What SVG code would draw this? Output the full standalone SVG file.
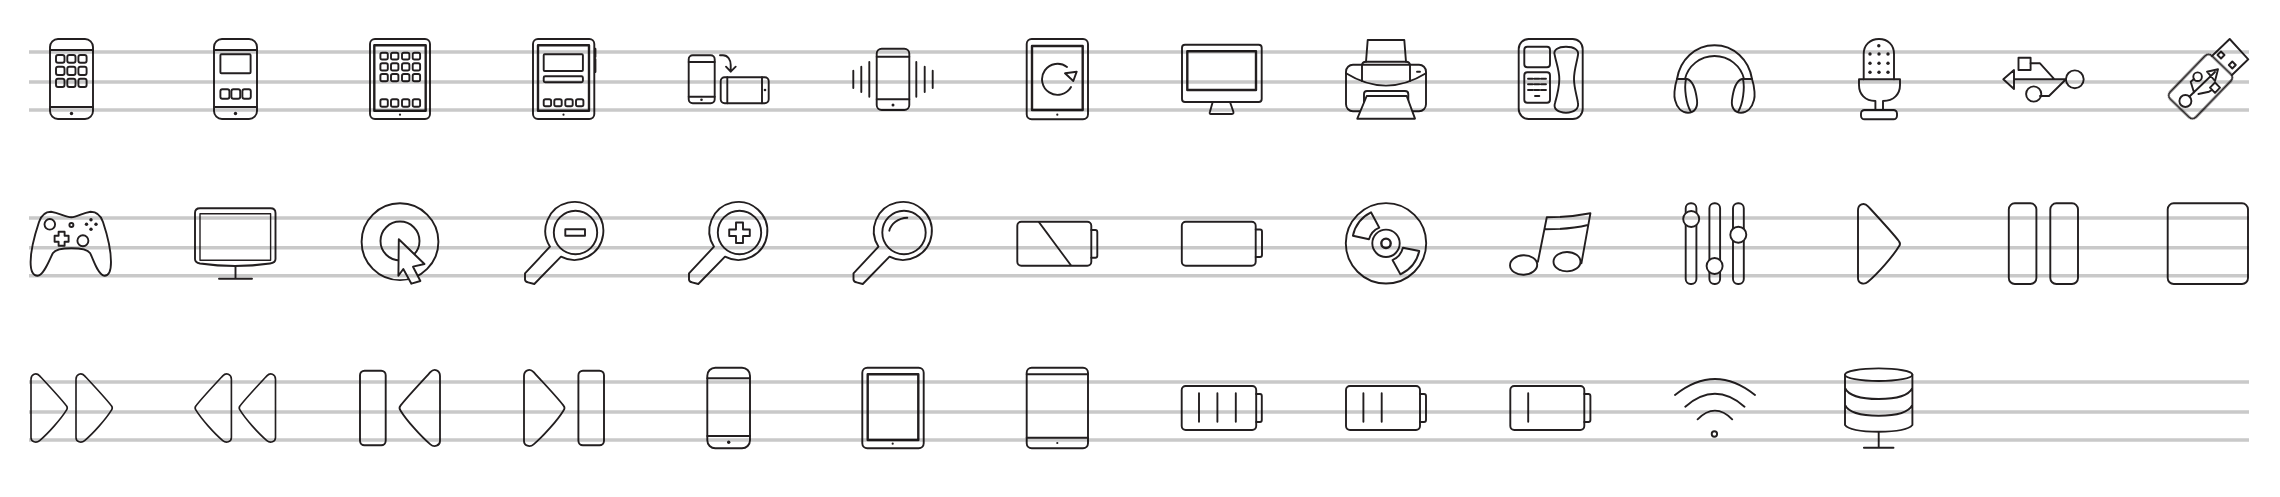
<svg xmlns="http://www.w3.org/2000/svg" xmlns:xlink="http://www.w3.org/1999/xlink" width="2280" height="497" viewBox="0 0 2280 497">
<style>
.i{mix-blend-mode:multiply}
.i *{fill:none;stroke:#231f20;stroke-width:1.9;stroke-linejoin:round;stroke-linecap:round;vector-effect:non-scaling-stroke}
.i .w{fill:#fff}
.i .d{fill:#231f20;stroke:none}
.i .t{stroke-width:2.4}
.i .n{stroke-width:1.4}
.g line{stroke:#c9c9c9;stroke-width:3.6}
</style>
<defs>
<path id="tri" d="M0,7C0,1 6,-1.5 10,3C22,16 35,30 41,38Q43,40.5 41,43C35,53 20,70 10,78.5C6,82 0,80 0,75Z"/>
</defs>
<rect width="2280" height="497" fill="#fff"/>
<g class="g">
<line x1="29" y1="52" x2="2249" y2="52"/><line x1="29" y1="82" x2="2249" y2="82"/><line x1="29" y1="110" x2="2249" y2="110"/>
<line x1="29" y1="218" x2="2249" y2="218"/><line x1="29" y1="247.7" x2="2249" y2="247.7"/><line x1="29" y1="275.7" x2="2249" y2="275.7"/>
<line x1="29" y1="382" x2="2249" y2="382"/><line x1="29" y1="412" x2="2249" y2="412"/><line x1="29" y1="440" x2="2249" y2="440"/>
</g>
<g class="i">
<g id="phone-apps">
<rect x="50" y="39" width="43" height="80" rx="8"/><path d="M50,50H93M50,107H93"/><circle class="d" cx="71.500" cy="113.500" r="1.700"/>
<rect x="56" y="55" width="8.500" height="7.700" rx="2"/><rect x="67.300" y="55" width="8.200" height="7.700" rx="2"/><rect x="78.400" y="55" width="8.200" height="7.700" rx="2"/>
<rect x="56" y="66.700" width="8.500" height="8.300" rx="2"/><rect x="67.300" y="66.700" width="8.200" height="8.300" rx="2"/><rect x="78.400" y="66.700" width="8.200" height="8.300" rx="2"/>
<rect x="56" y="78.700" width="8.500" height="8.300" rx="2"/><rect x="67.300" y="78.700" width="8.200" height="8.300" rx="2"/><rect x="78.400" y="78.700" width="8.200" height="8.300" rx="2"/>
</g>
<g id="phone-widget">
<rect x="214" y="39" width="43" height="80" rx="8"/><path d="M214,50H257M214,107H257"/><circle class="d" cx="235.500" cy="113.500" r="1.700"/>
<rect x="220.400" y="54.300" width="30.200" height="19" rx="1"/>
<rect x="220.400" y="89.300" width="9" height="9.400" rx="2"/><rect x="231.400" y="89.300" width="8.800" height="9.400" rx="2"/><rect x="242.400" y="89.300" width="8.400" height="9.400" rx="2"/>
</g>
<g id="tablet-apps">
<rect x="370" y="39" width="60" height="80" rx="5"/><rect class="t" x="374.300" y="45.300" width="51.400" height="65.400"/><circle class="d" cx="400" cy="114.700" r="1.100"/>
<rect x="380.400" y="52.700" width="7.400" height="6.800" rx="1.800"/><rect x="391" y="52.700" width="7.400" height="6.800" rx="1.800"/><rect x="402" y="52.700" width="7.400" height="6.800" rx="1.800"/><rect x="412.700" y="52.700" width="7.400" height="6.800" rx="1.800"/>
<rect x="380.400" y="63.300" width="7.400" height="7.200" rx="1.800"/><rect x="391" y="63.300" width="7.400" height="7.200" rx="1.800"/><rect x="402" y="63.300" width="7.400" height="7.200" rx="1.800"/><rect x="412.700" y="63.300" width="7.400" height="7.200" rx="1.800"/>
<rect x="380.400" y="74" width="7.400" height="7.200" rx="1.800"/><rect x="391" y="74" width="7.400" height="7.200" rx="1.800"/><rect x="402" y="74" width="7.400" height="7.200" rx="1.800"/><rect x="412.700" y="74" width="7.400" height="7.200" rx="1.800"/>
<rect x="380.400" y="99.300" width="7.400" height="7.400" rx="1.800"/><rect x="391" y="99.300" width="7.400" height="7.400" rx="1.800"/><rect x="402" y="99.300" width="7.400" height="7.400" rx="1.800"/><rect x="412.700" y="99.300" width="7.400" height="7.400" rx="1.800"/>
</g>
<g id="tablet-widget">
<rect x="533" y="39" width="61.300" height="80" rx="5"/><rect class="t" x="538" y="45.300" width="51" height="65.400"/><circle class="d" cx="563.500" cy="114.700" r="1.100"/>
<rect x="543.700" y="54.300" width="39.200" height="16.700" rx="1"/><rect x="543.700" y="76.300" width="39.200" height="6" rx="1.500"/>
<rect x="543.700" y="99.300" width="7.400" height="7" rx="1.800"/><rect x="554.300" y="99.300" width="7.400" height="7" rx="1.800"/><rect x="565.300" y="99.300" width="7.400" height="7" rx="1.800"/><rect x="576" y="99.300" width="7.400" height="7" rx="1.800"/>
<path class="t" d="M595.200,49V56.700M595.200,59.300V71.700"/>
</g>
<g id="phone-rotate">
<rect x="688.700" y="55.300" width="26" height="48" rx="4"/><path d="M688.700,62H714.700M688.700,96.700H714.700"/><circle class="d" cx="701.500" cy="99.700" r="1.300"/>
<rect x="720.700" y="77.300" width="48" height="26" rx="4"/><path d="M727.300,77.300V103.300M762,77.300V103.300"/><circle class="d" cx="765" cy="90" r="1.300"/>
<path d="M720,55.300H723C728,55.300 730.700,60 730.700,65V71M726,66.700L730.700,71.700L735.700,66.700"/>
</g>
<g id="phone-vibrate">
<rect x="876.700" y="48.700" width="32.600" height="61.300" rx="5"/><path d="M876.700,56.700H909.300M876.700,99.300H909.300"/><circle class="d" cx="893" cy="105" r="1.500"/>
<path d="M853.300,70.700V88M861.300,66.700V92M869.300,62V96.700M916.300,62V96.700M924.700,66.700V92M932.700,70.700V88"/>
</g>
<g id="tablet-rotate">
<rect x="1026.700" y="39" width="61.300" height="80.300" rx="5"/><rect class="t" x="1032" y="46" width="50.700" height="64"/><circle class="d" cx="1057.300" cy="114.700" r="1.100"/>
<path d="M1071,87A15.500,15.500 0 1 1 1067,67M1065,73.300L1076.700,71.700L1073.300,81Z"/>
</g>
<g id="monitor">
<rect x="1182" y="44.700" width="79.700" height="57.300" rx="3"/><rect class="t" x="1187.300" y="51.300" width="68.700" height="38.700"/>
<path d="M1212.700,102L1210,111.500Q1209,114 1211,114H1232Q1234,114 1233.300,111.500L1230,102"/>
</g>
<g id="printer">
<path d="M1366,61.700L1367.700,40H1404.300L1406,61.700"/>
<rect x="1346" y="64.700" width="80" height="46.600" rx="7"/>
<path d="M1346,73.300Q1386,98 1426,73.300"/>
<path d="M1362,81V65.700Q1362,61.700 1366,61.700H1406Q1410,61.700 1410,65.700V81"/>
<path d="M1364,104V94Q1364,91 1367,91H1405Q1408.300,91 1408.300,94V104"/>
<path class="w" d="M1366.700,96H1406.700L1415,118.700H1357.300Z"/>
<path d="M1417,71.700H1420"/>
</g>
<g id="deskphone">
<rect x="1518.700" y="39" width="64" height="80" rx="10"/>
<rect x="1524.300" y="46.700" width="25.700" height="20.600" rx="3"/><rect x="1524.300" y="72.300" width="25.700" height="30.400" rx="3"/>
<path d="M1528,78.700H1532.700M1534.300,78.700H1539.300M1541,78.700H1546M1528,84.300H1532.700M1534.300,84.300H1539.300M1541,84.300H1546M1528,90H1532.700M1534.300,90H1539.300M1541,90H1546M1535,96H1539.300"/>
<path d="M1566,46.700C1574,46.700 1579,50 1578,55C1577,62 1574,70 1574,79C1574,88 1577,96 1578,103C1579,109 1574,112.700 1566,112.700C1558,112.700 1553,109 1555,103C1557,96 1559.300,88 1559.300,79C1559.300,70 1556,62 1554.700,55C1553,50 1558,46.700 1566,46.700Z"/>
</g>
<g id="headphones">
<path d="M1677,79C1680,60 1695,45.300 1714.500,45.300C1734,45.300 1749,60 1752,79M1685,79C1688,66 1700,56 1714.500,56C1729,56 1741,66 1744,79"/>
<path id="cup" d="M1677,79C1674,88 1674,97 1675,100C1677,108 1682,112.700 1688,112.700C1694,112.700 1698,108 1697,100C1696,92 1694,81 1687,79ZM1686,79C1684,88 1686,104 1691,112"/>
<use xlink:href="#cup" href="#cup" transform="translate(3429,0) scale(-1,1)"/>
</g>
<g id="microphone">
<path d="M1863.700,79.300V54C1863.700,45 1870,39 1879,39C1888,39 1894,45 1894,54V79.300"/>
<path d="M1859,79.300H1900V85C1900,94 1894,101 1883,101V110M1859,79.300V85C1859,94 1865,101 1875.400,101V110"/>
<rect x="1861" y="110" width="36" height="9.300" rx="3.500"/>
<g class="dots"><circle class="d" cx="1878.800" cy="45.700" r="1.700"/><circle class="d" cx="1870" cy="54" r="1.700"/><circle class="d" cx="1879" cy="54" r="1.700"/><circle class="d" cx="1888" cy="54" r="1.700"/><circle class="d" cx="1870" cy="63.300" r="1.700"/><circle class="d" cx="1879" cy="63.300" r="1.700"/><circle class="d" cx="1888" cy="63.300" r="1.700"/><circle class="d" cx="1870" cy="72.300" r="1.700"/><circle class="d" cx="1879" cy="72.300" r="1.700"/><circle class="d" cx="1888" cy="72.300" r="1.700"/></g>
</g>
<g id="usb-symbol">
<path d="M2003.300,79.300L2014,70V89ZM2014,79.300H2066M2030.600,63.300H2040L2054.500,79.300M2066,79.300L2049,96H2040"/>
<rect x="2018.500" y="57.700" width="12.100" height="12.300"/>
<circle cx="2074.800" cy="79.300" r="8.900"/><circle cx="2033.700" cy="94" r="7.600"/>
</g>
<g id="usb-stick">
<rect x="2170.500" y="68.500" width="60" height="36" rx="5" transform="rotate(-46 2200.500 86.500)"/>
<path d="M2212,56L2229.700,39L2248.300,59.300L2232,75"/>
<path d="M2221,51.500L2224.500,55L2221,58.500L2217.500,55ZM2232.300,61.500L2235.800,65L2232.300,68.500L2228.800,65Z"/>
<circle cx="2185.400" cy="101" r="6"/><path d="M2189.500,96.500L2215,72M2207,71.700L2218,69.300L2215,81ZM2194,92.500L2190.700,81.700L2194,79M2198.400,94L2209,91.700L2212,90"/>
<circle cx="2197.600" cy="76.700" r="4.300"/><path d="M2215,82.500L2220,87.700L2215,92.900L2210,87.700Z"/>
</g>
<g id="gamepad">
<path d="M71.400,217.300C65,217.300 60,213 51,211.700C44,211.700 41,216 39,222C35,234 30.600,248 30.600,262C30.600,270 33,275.700 37.600,275.700C44,275.700 50,258 53,253C55,250 60,248.300 71.400,248.300C83,248.300 88,250 90,253C93,258 98,275.700 104.500,275.700C109,275.700 111,270 111,262C111,248 107,234 103,222C101,216 97,211.700 90.600,211.700C82,213 77,217.300 71.400,217.300Z"/>
<circle cx="49.800" cy="224.300" r="5.300"/><circle cx="71.400" cy="225" r="2"/><circle cx="82.900" cy="240.700" r="5.500"/>
<circle class="d" cx="91" cy="219.700" r="1.700"/><circle class="d" cx="86.500" cy="224.300" r="1.700"/><circle class="d" cx="96" cy="224.300" r="1.700"/><circle class="d" cx="91" cy="229.300" r="1.700"/>
<path d="M58.600,231.700H64.600V235.700H68.600V241.700H64.600V245.700H58.600V241.700H54.600V235.700H58.600Z"/>
</g>
<g id="tv">
<path d="M195,213C195,210 197,208.300 200,208.300H270.500C273.500,208.300 275.500,210 275.500,213V259C275.500,262 273.500,263 270,263.500Q235,268.500 200,263.500C197,263 195,262 195,259Z"/>
<rect class="n" x="200" y="213.700" width="70.600" height="46.600"/>
<path d="M235.500,266.500V278.500M219,278.700H252"/>
</g>
<g id="click-target">
<circle cx="400" cy="241.700" r="38.400"/><circle cx="400" cy="241" r="19.500"/>
<path class="w" d="M398.800,239.300L424.500,264L413,266.700L420.400,281L411.400,283.700L403.300,269L398.400,275.700Z"/>
</g>
<g id="zoom-out">
<circle cx="575.500" cy="232.500" r="21.700"/>
<path d="M550,246.700L525,273.300V279.700Q525.500,282 528,282.300L534.300,284L561,256.700A29,29 0 1 0 550,246.700Z"/>
<rect x="565.300" y="229.300" width="19.700" height="6.400"/>
</g>
<g id="zoom-in">
<circle cx="739.500" cy="232.500" r="21.700"/>
<path d="M714,246.700L689,273.300V279.700Q689.500,282 692,282.300L698.300,284L725,256.700A29,29 0 1 0 714,246.700Z"/>
<path d="M736,222.500H743V229.500H749.800V236H743V243H736V236H729.200V229.500H736Z"/>
</g>
<g id="magnifier">
<circle cx="904" cy="232.500" r="21.700"/>
<path d="M878.500,246.700L853.500,273.300V279.700Q854,282 856.500,282.300L862.800,284L889.500,256.700A29,29 0 1 0 878.500,246.700Z"/>
<path d="M889.300,230.700C891,224 898,218 907.300,217.700"/>
</g>
<g id="battery-half">
<rect x="1017.300" y="221.700" width="74" height="44" rx="4"/><path d="M1091.300,230H1095.300Q1097.300,230 1097.300,232V255.700Q1097.300,257.700 1095.300,257.700H1091.300M1039,222.300L1070.700,265"/>
</g>
<g id="battery-empty">
<rect x="1181.800" y="221.700" width="73.900" height="44" rx="4"/><path d="M1255.700,229.500H1260Q1262,229.500 1262,231.500V255Q1262,257 1260,257H1255.700"/>
</g>
<g id="disc">
<circle cx="1386" cy="243.300" r="40.200"/><circle cx="1386" cy="243.300" r="13.700"/><circle class="t" cx="1386" cy="243.300" r="4.700"/>
<path d="M1371,212.300L1379.300,227.700A18,18 0 0 0 1369,239.300L1352.900,235.700A34,34 0 0 1 1371,212.300Z"/>
<path d="M1419.300,251L1402.900,247.700A18,18 0 0 1 1392.500,260L1400.400,274.300A34,34 0 0 0 1419.300,251Z"/>
</g>
<g id="music-note">
<ellipse cx="1523.600" cy="265" rx="13.600" ry="9.700" transform="rotate(-2 1523.600 265)"/><ellipse cx="1567" cy="261.700" rx="13.500" ry="9.700"/>
<path d="M1537.900,261.700L1546.800,217.300Q1570,217.300 1590.400,213.300L1581.400,263.300M1545.700,229.300Q1570,229.300 1587.900,225"/>
</g>
<g id="sliders">
<rect x="1685.700" y="203.300" width="10.700" height="80.700" rx="5"/><rect x="1709.400" y="203.300" width="10.700" height="80.700" rx="5"/><rect x="1733" y="203.300" width="10.800" height="80.700" rx="5"/>
<circle class="w" cx="1691.200" cy="219" r="8"/><circle class="w" cx="1714.600" cy="266" r="8"/><circle class="w" cx="1738.300" cy="234.700" r="8"/>
</g>
<g id="play"><use xlink:href="#tri" href="#tri" transform="translate(1858,203.300)"/></g>
<g id="pause"><rect x="2008.800" y="203.300" width="27.600" height="80.700" rx="6"/><rect x="2050.300" y="203.300" width="27.700" height="80.700" rx="6"/></g>
<g id="stop"><rect x="2167.700" y="203.300" width="80.300" height="80.700" rx="6"/></g>
<g id="fast-forward"><use xlink:href="#tri" href="#tri" transform="translate(31,373.300) scale(.864,.857)"/><use xlink:href="#tri" href="#tri" transform="translate(76,373.300) scale(.864,.857)"/></g>
<g id="rewind"><use xlink:href="#tri" href="#tri" transform="translate(231.400,373.300) scale(-.864,.857)"/><use xlink:href="#tri" href="#tri" transform="translate(275.500,373.300) scale(-.864,.857)"/></g>
<g id="skip-back"><rect x="360" y="370.700" width="25.700" height="74.600" rx="4.500"/><use xlink:href="#tri" href="#tri" transform="translate(440,369.300) scale(-.964,.956)"/></g>
<g id="skip-forward"><use xlink:href="#tri" href="#tri" transform="translate(524,369.300) scale(.964,.956)"/><rect x="578.400" y="370.700" width="25.600" height="74.600" rx="4.500"/></g>
<g id="phone-blank"><rect x="707.300" y="367.700" width="42.700" height="80.600" rx="8"/><path d="M707.300,378.300H750M707.300,436H750"/><circle class="d" cx="728.700" cy="442.300" r="1.700"/></g>
<g id="tablet-blank"><rect x="862.300" y="367.700" width="61.400" height="80.600" rx="5"/><rect class="t" x="867.700" y="374.300" width="50.600" height="65.700"/><circle class="d" cx="892.700" cy="443.700" r="1.100"/></g>
<g id="tablet-mini"><rect x="1026.700" y="367.700" width="61.300" height="80.600" rx="5"/><path d="M1026.700,374.300H1088M1026.700,437.700H1088"/><circle class="d" cx="1057.300" cy="443" r="1.100"/></g>
<g id="battery-3"><rect x="1181.700" y="386" width="74.500" height="44" rx="4"/><path d="M1256.200,394H1260Q1261.800,394 1261.800,396V420Q1261.800,422 1260,422H1256.200M1199,393.300V421.700M1217.400,393.300V421.700M1235.800,393.300V421.700"/></g>
<g id="battery-2"><rect x="1346" y="386" width="74" height="44" rx="4"/><path d="M1420,394H1424Q1426,394 1426,396V420Q1426,422 1424,422H1420M1363.400,393.300V421.700M1381.700,393.300V421.700"/></g>
<g id="battery-1"><rect x="1510.300" y="386" width="74" height="44" rx="4"/><path d="M1584.300,394H1588.400Q1590.400,394 1590.400,396V420Q1590.400,422 1588.400,422H1584.300M1528.200,393.300V421.700"/></g>
<g id="wifi">
<path d="M1675,395Q1715,363 1755,395M1685.300,406.700Q1715,381 1744.500,406.700M1697.600,419.300Q1715,402 1732.200,419.300"/>
<circle cx="1714.400" cy="434" r="2.700"/>
</g>
<g id="database">
<ellipse cx="1878.700" cy="374.700" rx="33.700" ry="6.300"/>
<path d="M1845,374.700V425Q1850,431.700 1878.700,431.700Q1907,431.700 1912.400,425V374.700M1845,388Q1850,399 1878.700,399Q1907,399 1912.400,388M1845,405Q1850,415.700 1878.700,415.700Q1907,415.700 1912.400,405M1878.700,431.700V447.300M1863.900,447.700H1893.500"/>
</g>
</g>
</svg>
